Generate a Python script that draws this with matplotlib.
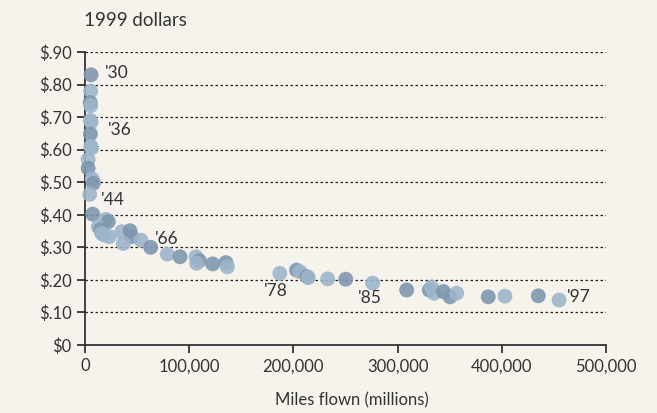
import matplotlib
matplotlib.use("Agg")
import matplotlib.pyplot as plt
from matplotlib.ticker import FuncFormatter

# Airline fare per mile (1999 dollars) against total miles flown (millions)
miles = [5800, 5500, 5000, 5500, 5300, 5800, 5200, 5600, 6300, 3000,
         3000, 7000, 8000, 4500, 7400, 20000, 22400, 12800, 15000, 16000,
         18000, 23300, 35200, 43200, 44800, 36800, 53700, 63000, 79000, 91200,
         106500, 109700, 107200, 122500, 135300, 136600, 187000, 203000, 206300, 213000,
         214300, 232900, 250200, 276100, 308700, 330400, 332700, 335000, 344000, 350300,
         356700, 387000, 403000, 435000, 455000]
fare = [0.83, 0.78, 0.745, 0.735, 0.69, 0.685, 0.648, 0.61, 0.605, 0.57,
        0.543, 0.51, 0.497, 0.463, 0.402, 0.386, 0.379, 0.363, 0.355, 0.343,
        0.338, 0.333, 0.348, 0.351, 0.333, 0.312, 0.322, 0.30, 0.279, 0.271,
        0.271, 0.259, 0.251, 0.249, 0.253, 0.24, 0.22, 0.23, 0.225, 0.21,
        0.207, 0.203, 0.202, 0.19, 0.169, 0.169, 0.178, 0.159, 0.164, 0.148,
        0.159, 0.148, 0.15, 0.151, 0.138]
shade = ["d", "l", "d", "l", "l", "l", "d", "l", "l", "l",
         "d", "l", "d", "l", "d", "l", "d", "l", "d", "l",
         "l", "l", "l", "d", "d", "l", "l", "d", "l", "d",
         "l", "d", "l", "d", "d", "l", "l", "d", "l", "d",
         "l", "l", "d", "l", "d", "d", "l", "l", "d", "d",
         "l", "d", "l", "d", "l"]

year_labels = ["'30", "'36", "'44", "'66", "'78", "'85", "'97"]
label_x = [19000, 22000, 15000, 67000, 172000, 262000, 462000]
label_y = [0.835, 0.66, 0.445, 0.325, 0.165, 0.145, 0.147]

y_ticks = [0, 0.1, 0.2, 0.3, 0.4, 0.5, 0.6, 0.7, 0.8, 0.9]
x_ticks = [0, 100000, 200000, 300000, 400000, 500000]

bg = "#f6f3ed"
dark = "#7f97ae"
light = "#9db6cb"
ink = "#333333"

plt.rcParams["font.family"] = ["Lato", "DejaVu Sans"]

fig = plt.figure(figsize=(6.57, 4.13), dpi=100, facecolor=bg)
ax = fig.add_axes([85 / 657, 1 - 345 / 413, (606 - 85) / 657, (345 - 52) / 413])
ax.set_facecolor(bg)

colors = [dark if s == "d" else light for s in shade]
ax.scatter(miles, fare, s=115, c=colors, alpha=0.9, linewidths=0, zorder=3,
           clip_on=False)

for t, x, y in zip(year_labels, label_x, label_y):
    ax.text(x, y, t, fontsize=12.5, color=ink, ha="left", va="center", zorder=4)

ax.set_xlim(0, 500000)
ax.set_ylim(0, 0.9)
ax.set_xticks(x_ticks)
ax.set_yticks(y_ticks)
ax.xaxis.set_major_formatter(FuncFormatter(lambda v, p: f"{int(v):,}"))
ax.yaxis.set_major_formatter(
    FuncFormatter(lambda v, p: "$0" if v == 0 else "$" + f"{v:.2f}"[1:]))

for yv in y_ticks[1:]:
    ax.axhline(yv, color="#222222", lw=0.9, ls=(0, (2, 2)), zorder=1)

for side in ("top", "right"):
    ax.spines[side].set_visible(False)
for side in ("left", "bottom"):
    ax.spines[side].set_color(ink)
    ax.spines[side].set_linewidth(1.3)

ax.tick_params(axis="both", colors=ink, labelcolor=ink, labelsize=12,
               length=6, width=1.3, direction="out")

fig.text(84 / 657, 1 - 20 / 413, "1999 dollars", fontsize=13.5, color=ink,
         ha="left", va="center")
fig.text(352 / 657, 1 - 400 / 413, "Miles flown (millions)", fontsize=12,
         color=ink, ha="center", va="center")

fig.savefig("out.png", dpi=100, facecolor=bg)
